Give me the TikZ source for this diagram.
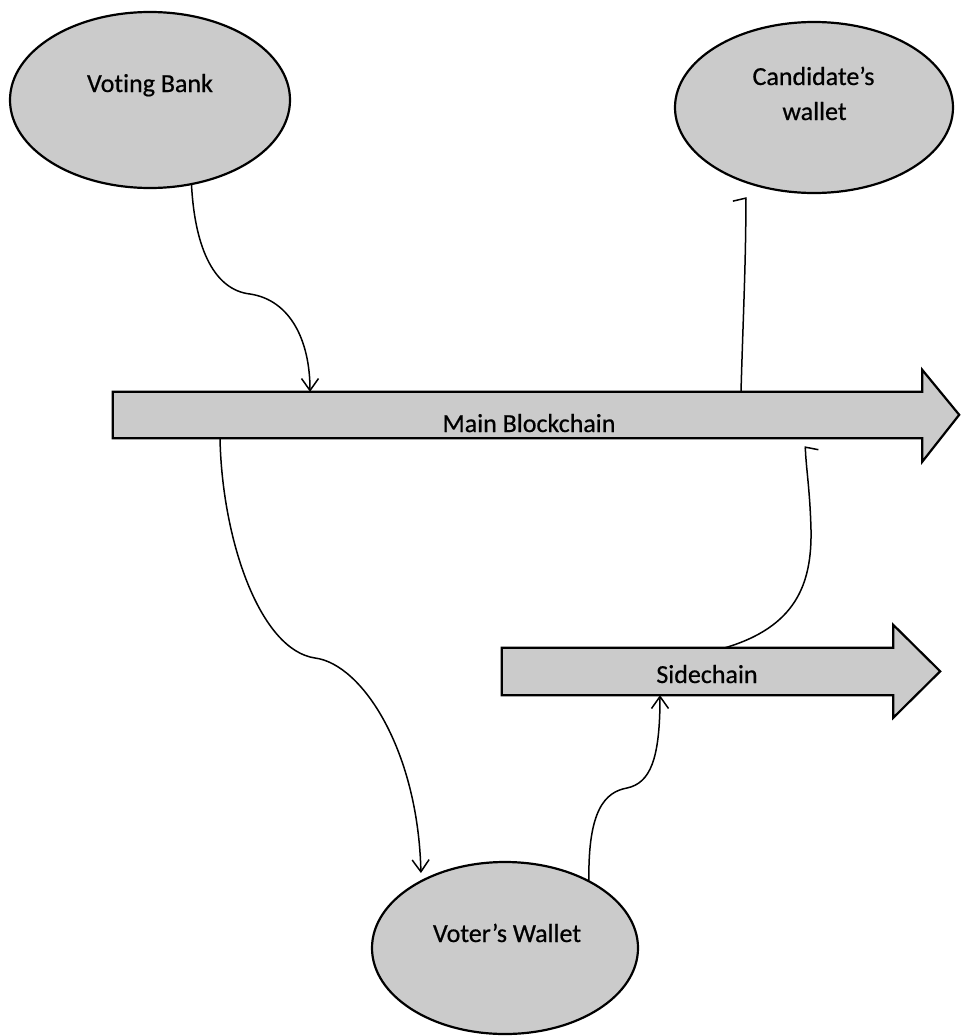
\documentclass[tikz,border=0pt]{standalone}
\usepackage{fontspec}
\setmainfont{Carlito}[FakeBold=0.6,Ligatures=NoCommon]
\usetikzlibrary{shapes.geometric,arrows.meta}
\definecolor{shade}{RGB}{203,203,203}
\begin{document}
\begin{tikzpicture}[x=1pt,y=-1pt,
  bubble/.style={ellipse,draw=black,line width=2.2pt,fill=shade,inner sep=0pt},
  shaft/.style={rectangle,inner sep=0pt,draw=none},
  body/.style={draw=black,line width=2.2pt,fill=shade,line join=miter},
  lbl/.style={font=\fontsize{26}{30}\selectfont,inner sep=0pt,anchor=base},
  link/.style={line width=1.5pt,-{Straight Barb[length=12pt,width=17pt]}},
  hookl/.style={line width=1.5pt,-{Straight Barb[harpoon,length=3pt,width=26pt]}},
  hookr/.style={line width=1.5pt,-{Straight Barb[harpoon,swap,length=3pt,width=26pt]}}]
\useasboundingbox (0,0) rectangle (962,1036);

% wallets and bank
\node[bubble,minimum width=280pt,minimum height=176pt] (vb) at (150,100) {};
\node[bubble,minimum width=278pt,minimum height=171pt] (cw) at (814,107.5) {};
\node[bubble,minimum width=266pt,minimum height=172pt] (vw) at (505,948) {};

% chains: shaft nodes plus the block-arrow outlines
\node[shaft,minimum width=809pt,minimum height=46pt] (main) at (517.5,415) {};
\node[shaft,minimum width=391pt,minimum height=47pt] (side) at (697.5,671.5) {};
\draw[body] (main.north west) -- (main.north east) -- ++(0,-22) -- ++(37,45)
  -- ++(-37,47) -- (main.south east) -- (main.south west) -- cycle;
\draw[body] (side.north west) -- (side.north east) -- ++(0,-23) -- ++(47,46.5)
  -- ++(-47,46.5) -- (side.south east) -- (side.south west) -- cycle;

% labels
\node[lbl] (vbt) at (150,92) {Voting Bank};
\node[lbl] (cwt1) at (813.5,85) {Candidate’s};
\node[lbl] (cwt2) at (814.5,120) {wallet};
\node[lbl] (mt) at (529,432) {Main Blockchain};
\node[lbl] (st) at (707,683) {Sidechain};
\node[lbl] (vwt) at (507,942) {Voter’s Wallet};

% flows
\draw[link] (vb.-64) .. controls (195,250) and (215,290) .. (250,294)
  .. controls (290,300) and (310,340) .. (310,0 |- main.north);
\draw[link,shorten >=7pt] (220,0 |- main.south) .. controls (222,540) and (260,650) .. (315,658)
  .. controls (362,664) and (418,750) .. (vw.141);
\draw[link] (vw.39) .. controls (588,810) and (605,792) .. (627,788)
  .. controls (650,783) and (660,760) .. (660,0 |- side.south);
\draw[hookr,shorten >=8pt] (725,0 |- side.north) .. controls (795,627) and (812,585) .. (811,530)
  .. controls (810,490) and (806,468) .. (805,0 |- main.south);
\draw[hookl,shorten >=14pt] (741,0 |- main.north) .. controls (743,320) and (746,260) .. (cw.-132);
\end{tikzpicture}
\end{document}
